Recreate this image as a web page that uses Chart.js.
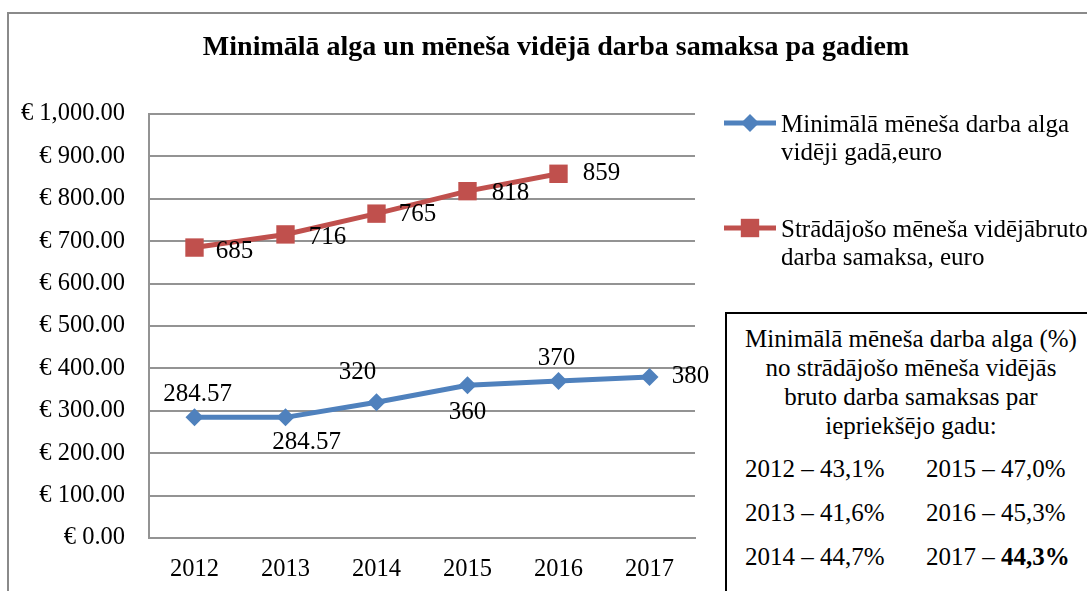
<!DOCTYPE html>
<html>
<head>
<meta charset="utf-8">
<script src="https://cdn.jsdelivr.net/npm/chart.js@4.4.2/dist/chart.umd.min.js"></script>
<style>
    html, body { margin: 0; padding: 0; background: #fff; }
    #wrap { position: relative; width: 1087px; height: 591px; overflow: hidden; }
    #chart { position: absolute; left: 0; top: 0; }
    #note {
        position: absolute; left: 725px; top: 312px; width: 380px; height: 320px;
        border: 2px solid #000; background: #fff;
        font-family: "Liberation Serif", "Times New Roman", serif; font-size: 25px; color: #000;
    }
    #note .head { text-align: center; line-height: 29px; padding-top: 10px; width: 368px; white-space: nowrap; }
    #note .rows { margin-top: 7px; padding-left: 18px; }
    #note .row { display: flex; line-height: 44px; white-space: nowrap; }
    #note .row span:first-child { width: 181px; }
</style>
</head>
<body>
<div id="wrap">
    <canvas id="chart" width="1087" height="591"></canvas>
    <div id="note">
        <div class="head">Minimālā mēneša darba alga (%)<br>no strādājošo mēneša vidējās<br>bruto darba samaksas par<br>iepriekšējo gadu:</div>
        <div class="rows" id="note-rows"></div>
    </div>
</div>
<script>
// Données
const years = ['2012', '2013', '2014', '2015', '2016', '2017'];
const minWage = [284.57, 284.57, 320, 360, 370, 380];
const avgWage = [685, 716, 765, 818, 859, null];
const minWageLabel = ['Minimālā mēneša darba alga', 'vidēji gadā,euro'];
const avgWageLabel = ['Strādājošo mēneša vidējābruto', 'darba samaksa, euro'];
const shareYears = ['2012', '2015', '2013', '2016', '2014', '2017'];
const shareValues = ['43,1%', '47,0%', '41,6%', '45,3%', '44,7%', '44,3%'];

// Position des étiquettes (décalage par rapport au point)
const minWageOffsets = [[3, -23], [21, 25], [-19, -30], [0, 27], [-2, -23], [41, 0]];
const avgWageOffsets = [[40, 4], [42, 3], [41, 1], [43, 2], [43, 0], [0, 0]];

const BLUE = '#4F81BD';
const RED = '#C0504D';
const GRID = '#939393';
const FONT = '"Liberation Serif", "Times New Roman", serif';

// Tableau des pourcentages
const rows = document.getElementById('note-rows');
for (let i = 0; i < shareYears.length; i += 2) {
    const row = document.createElement('div');
    row.className = 'row';
    const last = i + 1 === shareYears.length - 1;
    row.innerHTML = `<span>${shareYears[i]} – ${shareValues[i]}</span>` +
        `<span>${shareYears[i + 1]} – ${last ? '<b>' + shareValues[i + 1] + '</b>' : shareValues[i + 1]}</span>`;
    rows.appendChild(row);
}

const decorPlugin = {
    id: 'decor',
    beforeDraw(chart) {
        const ctx = chart.ctx;
        ctx.save();
        ctx.strokeStyle = '#8a8a8a';
        ctx.lineWidth = 2;
        ctx.strokeRect(8, 13, 1200, 700);
        ctx.restore();
    },
    afterDraw(chart) {
        const ctx = chart.ctx;
        ctx.save();
        // Titre
        ctx.fillStyle = '#000';
        ctx.font = 'bold 28px ' + FONT;
        ctx.textAlign = 'center';
        ctx.textBaseline = 'middle';
        ctx.fillText('Minimālā alga un mēneša vidējā darba samaksa pa gadiem', 556, 48);

        // Étiquettes des valeurs
        ctx.font = '25px ' + FONT;
        const sets = [minWageOffsets, avgWageOffsets];
        chart.data.datasets.forEach((ds, di) => {
            chart.getDatasetMeta(di).data.forEach((pt, i) => {
                const v = ds.data[i];
                if (v === null) return;
                const [dx, dy] = sets[di][i];
                ctx.fillText(String(v), pt.x + dx, pt.y + dy);
            });
        });

        // Légende
        const items = [
            { color: BLUE, style: 'rectRot', radius: 9, y: 123, text: minWageLabel },
            { color: RED, style: 'rect', radius: 13, y: 228, text: avgWageLabel }
        ];
        items.forEach(it => {
            ctx.strokeStyle = it.color;
            ctx.lineWidth = 5;
            ctx.beginPath();
            ctx.moveTo(724, it.y);
            ctx.lineTo(776, it.y);
            ctx.stroke();
            ctx.fillStyle = it.color;
            Chart.helpers.drawPoint(ctx, { pointStyle: it.style, radius: it.radius, borderWidth: 0 }, 750, it.y);
            ctx.fillStyle = '#000';
            ctx.textAlign = 'left';
            it.text.forEach((t, k) => ctx.fillText(t, 781, it.y + 2 + k * 28));
        });
        ctx.restore();
    }
};

new Chart(document.getElementById('chart'), {
    type: 'line',
    data: {
        labels: years,
        datasets: [{
            label: minWageLabel.join(' '),
            data: minWage,
            borderColor: BLUE,
            backgroundColor: BLUE,
            borderWidth: 5,
            pointStyle: 'rectRot',
            pointRadius: 9,
            pointBorderWidth: 0,
            tension: 0
        }, {
            label: avgWageLabel.join(' '),
            data: avgWage,
            borderColor: RED,
            backgroundColor: RED,
            borderWidth: 5,
            pointStyle: 'rect',
            pointRadius: 13,
            pointBorderWidth: 0,
            tension: 0
        }]
    },
    options: {
        responsive: false,
        animation: false,
        devicePixelRatio: 1,
        layout: { padding: { top: 114, right: 392, bottom: 0, left: 0 } },
        plugins: { legend: { display: false }, title: { display: false }, tooltip: { enabled: false } },
        scales: {
            x: {
                offset: true,
                grid: { display: false, drawTicks: false },
                border: { display: true, color: GRID, width: 2 },
                ticks: { color: '#000', font: { family: FONT, size: 24.5 }, padding: 17 },
                afterFit: s => { s.height = 53; }
            },
            y: {
                min: 0,
                max: 1000,
                grid: { color: GRID, lineWidth: 2, drawTicks: false },
                border: { display: true, color: GRID, width: 2 },
                ticks: {
                    stepSize: 100,
                    color: '#000',
                    padding: 24,
                    font: { family: FONT, size: 24.5 },
                    callback: v => '€ ' + Number(v).toLocaleString('en-US', { minimumFractionDigits: 2, maximumFractionDigits: 2 })
                },
                afterFit: s => { s.width = 149; }
            }
        }
    },
    plugins: [decorPlugin]
});
</script>
</body>
</html>
